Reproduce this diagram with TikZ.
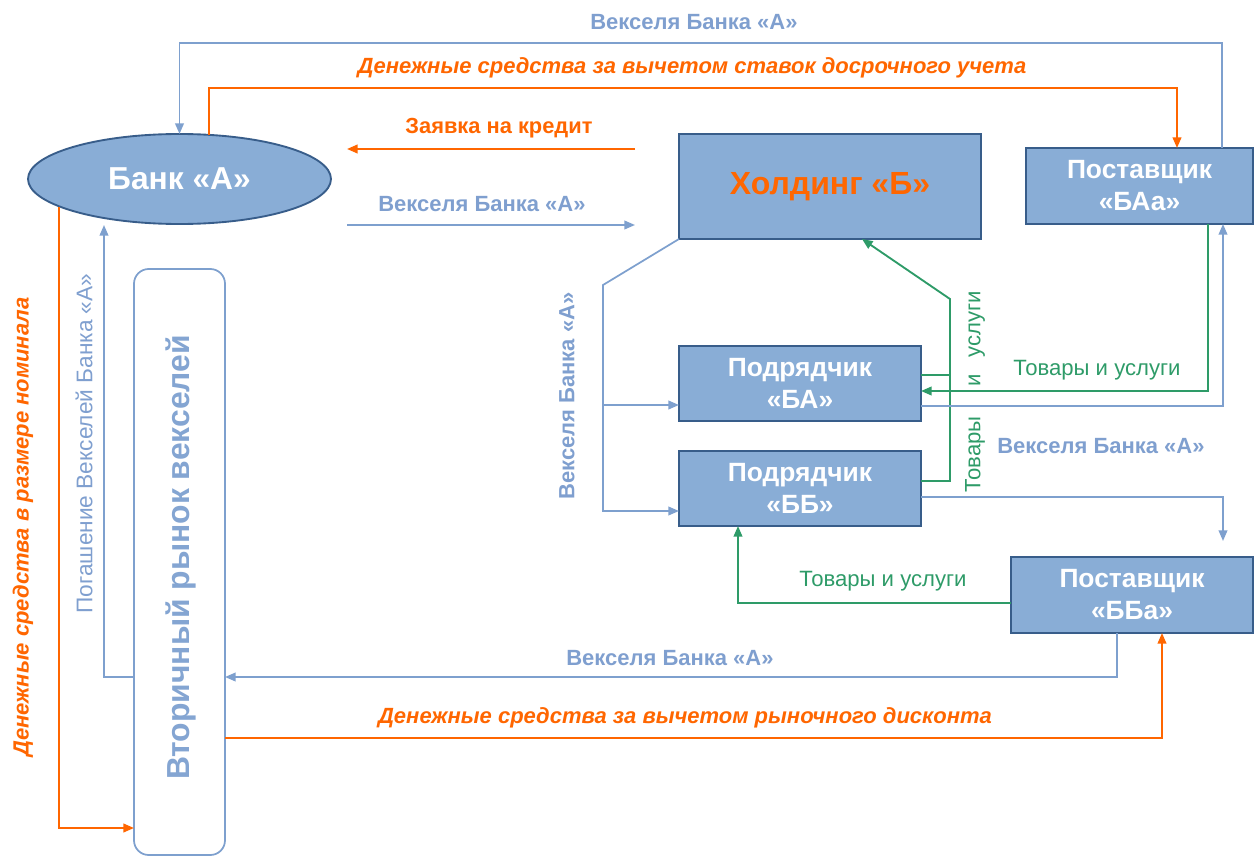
\documentclass[tikz,border=0pt]{standalone}
\usepackage{fontspec}
\setmainfont{Liberation Sans}
\usetikzlibrary{arrows.meta,calc,shapes.geometric}
\definecolor{boxfill}{RGB}{137,173,214}
\definecolor{boxline}{RGB}{56,93,138}
\definecolor{bl}{RGB}{126,160,206}
\definecolor{bltext}{RGB}{127,159,207}
\definecolor{mkttext}{RGB}{132,165,210}
\definecolor{org}{RGB}{255,102,0}
\definecolor{grn}{RGB}{46,155,104}
\begin{document}
\begin{tikzpicture}[x=0.75pt,y=-0.75pt,
  box/.style={draw=boxline,line width=1.6pt,fill=boxfill,text=white,font=\bfseries\fontsize{19.8}{24}\selectfont,align=center,inner sep=0pt,outer sep=0pt},
  bline/.style={draw=bl,line width=1.3pt},
  oline/.style={draw=org,line width=1.5pt},
  gline/.style={draw=grn,line width=1.4pt},
  tip/.style={-{Triangle[length=8pt,width=6.5pt]}},
  blab/.style={text=bltext,font=\bfseries\fontsize{16.5}{19}\selectfont,inner sep=0pt},
  olab/.style={text=org,font=\bfseries\itshape\fontsize{16.5}{19}\selectfont,inner sep=0pt},
  glab/.style={text=grn,font=\fontsize{16.6}{19}\selectfont,inner sep=0pt}]
\useasboundingbox (0,0) rectangle (1254,856);

% nodes
\node[ellipse,draw=boxline,line width=1.4pt,fill=boxfill,text=white,font=\bfseries\fontsize{23.8}{28}\selectfont,minimum width=227.25pt,minimum height=67.5pt,inner sep=0pt,outer sep=0pt] (bank) at (179.5,179) {Банк «А»};
\node[box,minimum width=226.5pt,minimum height=78.75pt,text=org,font=\bfseries\fontsize{24}{28}\selectfont] (hold) at (830,186.5) {Холдинг «Б»};
\node[box,minimum width=170.25pt,minimum height=57pt] (supA) at (1139.5,186) {Поставщик\\«БАа»};
\node[box,minimum width=181.5pt,minimum height=56.25pt] (pba) at (800,383.5) {Подрядчик\\«БА»};
\node[box,minimum width=181.5pt,minimum height=56.25pt] (pbb) at (800,488.5) {Подрядчик\\«ББ»};
\node[box,minimum width=181.5pt,minimum height=57pt] (supB) at (1132,595) {Поставщик\\«ББа»};
\node[draw=bl,line width=1.3pt,fill=white,rounded corners=11pt,minimum width=68.25pt,minimum height=439.5pt,inner sep=0pt,outer sep=0pt] (mkt) at (179.5,562) {};
\node[rotate=90,text=mkttext,font=\bfseries\fontsize{23.9}{28}\selectfont,inner sep=0pt] (mkttxt) at (181,557.5) {Вторичный рынок векселей};

% coordinates
\coordinate (oA) at ($(supA.north)+(37.5,0)$);
\coordinate (bA) at ($(supA.north)+(82.5,0)$);
\coordinate (z1) at (635,149);
\coordinate (z2) at (347,149);
\coordinate (v1) at (347,225);
\coordinate (v2) at (635,225);
\coordinate (bend) at (603,285);
\coordinate (gbend) at (950,299);
\coordinate (hs) at ($(hold.south)+(32,0)$);
\coordinate (ddown) at (1223,541);
\coordinate (bup) at (104,225);
\coordinate (bankLo) at (59,207);

% connectors
\draw[bline,tip] (bA) |- (bank.north |- 0,43) -- (bank.north);
\draw[oline,tip] (bank.56) |- (oA |- 0,88) -- (oA);
\draw[oline,tip] (z1) -- (z2);
\draw[bline,tip] (v1) -- (v2);
\draw[bline,tip] (hold.south west) -- (bend) |- (pbb.west |- 0,511);
\draw[bline,tip] (bend |- 0,405) -- (pba.west |- 0,405);
\draw[gline,tip] (pbb.east |- 0,481) -| (gbend) -- (hs);
\draw[gline] (pba.east |- 0,375) -- (gbend |- 0,375);
\draw[gline,tip] (supA.south -| 1208,0) |- (pba.east |- 0,391);
\draw[bline,tip] (pba.east |- 0,406) -| (supA.south -| 1223,0);
\draw[bline,tip] (pbb.east |- 0,497) -| (ddown);
\draw[gline,tip] (supB.west |- 0,603) -| (pbb.south -| 738,0);
\draw[bline,tip] (supB.south -| 1117,0) |- (mkt.east |- 0,677);
\draw[oline,tip] (mkt.east |- 0,738) -| (supB.south -| 1162,0);
\draw[bline,tip] (mkt.west |- 0,677) -| (bup);
\draw[oline,tip] (bankLo) |- (mkt.west |- 0,828);

% labels
\node[blab] (l1) at (694,22) {Векселя Банка «А»};
\node[olab] (l2) at (692,68) {Денежные средства за вычетом ставок досрочного учета};
\node[olab,font=\bfseries\fontsize{16.4}{19}\selectfont] (l3) at (499,128) {Заявка на кредит};
\node[blab] (l4) at (482,204) {Векселя Банка «А»};
\node[blab,rotate=90] (l5) at (567,396) {Векселя Банка «А»};
\node[glab] (l6) at (1097,370) {Товары и услуги};
\node[glab,rotate=90] (l7) at (975,391.5) {Товары\hspace{22pt}и\hspace{13pt}услуги};
\node[blab] (l8) at (1101,446) {Векселя Банка «А»};
\node[glab] (l9) at (883,581) {Товары и услуги};
\node[blab] (l10) at (670,658) {Векселя Банка «А»};
\node[olab] (l11) at (685,718) {Денежные средства за вычетом рыночного дисконта};
\node[blab,font=\fontsize{17}{20}\selectfont,rotate=90] (l12) at (84,443.5) {Погашение Векселей Банка «А»};
\node[olab,rotate=90] (l13) at (23,527) {Денежные средства в размере номинала};
\end{tikzpicture}
\end{document}
